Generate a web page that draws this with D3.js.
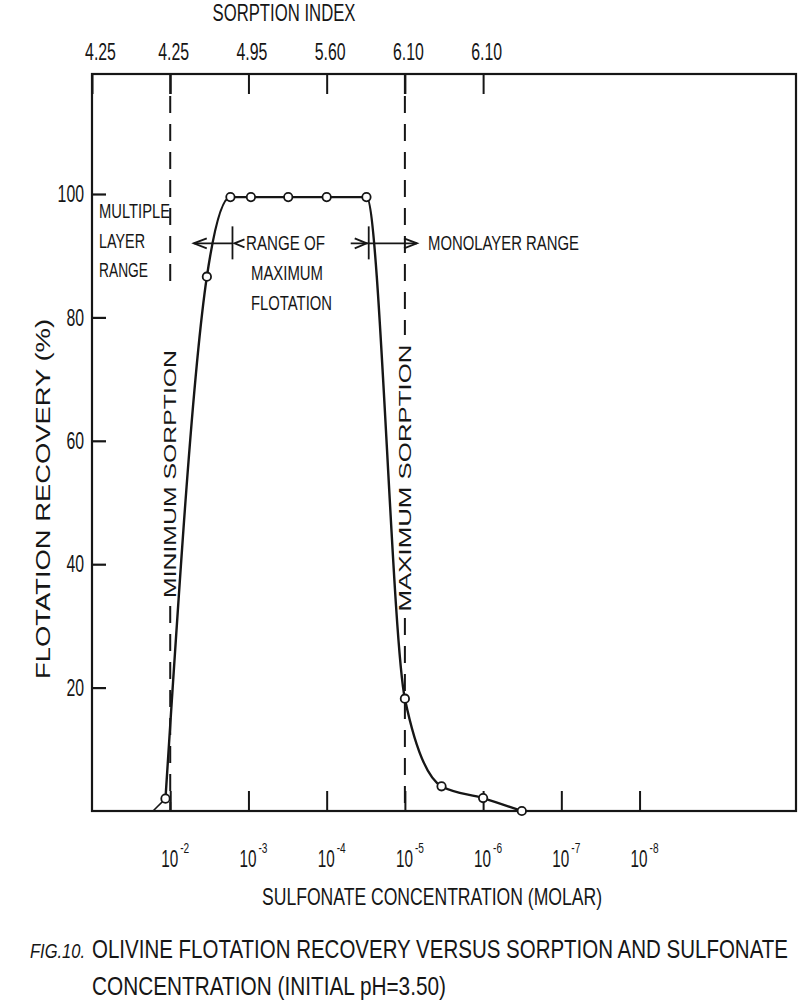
<!DOCTYPE html>
<html><head><meta charset="utf-8">
<script src="https://cdn.jsdelivr.net/npm/d3@7"></script>
<style>
body{margin:0;background:#fff}
svg{display:block}
text{font-family:"Liberation Sans Narrow","Liberation Sans",Arial,sans-serif;fill:#161616}
</style>
</head><body>
<svg id="c" width="800" height="1008"></svg>
<script>
// ---- data ----
const concentration = [0.0166, 0.0115, 0.0034, 0.0017, 0.00093, 0.00031, 0.0001, 0.000031, 0.00001, 0.0000034, 0.000001, 0.00000032];
const recovery      = [0,      2.0,    86.6,   99.5,   99.5,    99.5,    99.5,   99.5,     18.2,    4.0,       2.1,      0];
const hasMarker     = [false,  true,   true,   true,   true,    true,    true,   true,     true,    true,      true,     true];

const bottomTicks = [1e-2, 1e-3, 1e-4, 1e-5, 1e-6, 1e-7, 1e-8];
const bottomExp   = ["-2", "-3", "-4", "-5", "-6", "-7", "-8"];
const topTicks    = [1e-1, 1e-2, 1e-3, 1e-4, 1e-5, 1e-6];
const sorptionIndex = ["4.25", "4.25", "4.95", "5.60", "6.10", "6.10"];
const yTicks = [20, 40, 60, 80, 100];
const sorptionLines = [1e-2, 1e-5];
const sorptionLineLabels = ["MINIMUM  SORPTION", "MAXIMUM  SORPTION"];

// ---- drawing ----
const svg = d3.select("#c");
const INK = "#161616";
const L = 92, R = 796, T = 74, B = 811;
const x = d3.scaleLog().domain([1e-1, 1e-10]).range([L, R]);
const y = d3.scaleLinear().domain([0, 100]).range([B, 194]);

function fit(sel, w){ sel.attr("textLength", w).attr("lengthAdjust", "spacingAndGlyphs"); return sel; }
function numW(s){ let w=0; for(const ch of s){ w += (ch==='.'?4.5:8.8); } return w; }
// tall, condensed lettering: small font stretched vertically, width fixed by textLength
function tallText(px, py, str, size, sy, w){
  return fit(svg.append("text").attr("transform",`translate(${px},${py}) scale(1,${sy})`)
    .attr("font-size",size).text(str), w);
}

// frame
svg.append("rect").attr("x", L).attr("y", T).attr("width", R-L).attr("height", B-T)
  .attr("fill","none").attr("stroke",INK).attr("stroke-width",2.2);

// y axis
const gy = svg.append("g").attr("transform",`translate(${L},0)`)
  .call(d3.axisLeft(y).tickValues(yTicks).tickSize(-14).tickPadding(8));
gy.select(".domain").remove();
gy.selectAll(".tick line").attr("stroke",INK).attr("stroke-width",2.2);
gy.selectAll(".tick text").attr("font-size",24).attr("fill",INK)
  .attr("font-family","Liberation Sans Narrow, Liberation Sans, sans-serif")
  .each(function(d){ fit(d3.select(this), numW(String(d))); });

// top axis (sorption index)
const gt = svg.append("g").attr("transform",`translate(0,${T})`)
  .call(d3.axisTop(x).tickValues(topTicks).tickFormat((d,i)=>sorptionIndex[i]).tickSize(-20).tickPadding(14));
gt.select(".domain").remove();
gt.selectAll(".tick line").attr("stroke",INK).attr("stroke-width",2);
gt.selectAll(".tick text").attr("font-size",24).attr("fill",INK)
  .attr("font-family","Liberation Sans Narrow, Liberation Sans, sans-serif")
  .attr("dx",(d,i)=> i===0 ? 8 : 3)
  .each(function(d,i){ fit(d3.select(this), numW(sorptionIndex[i])); });

fit(svg.append("text").attr("x",284).attr("y",21).attr("text-anchor","middle")
  .attr("font-size",24).text("SORPTION INDEX"), 143);

// bottom axis (sulfonate concentration)
const gb = svg.append("g").attr("transform",`translate(0,${B})`)
  .call(d3.axisBottom(x).tickValues(bottomTicks).tickSize(-20).tickFormat(""));
gb.select(".domain").remove();
gb.selectAll(".tick line").attr("stroke",INK).attr("stroke-width",2);

bottomTicks.forEach((d,i)=>{
  tallText(x(d)-9, 867, "10", 15.5, 1.5, 17);
  tallText(x(d)+10, 853, bottomExp[i], 10.5, 1.4, 9);
});

fit(svg.append("text").attr("x",432).attr("y",905).attr("text-anchor","middle")
  .attr("font-size",24).text("SULFONATE CONCENTRATION (MOLAR)"), 340);

// y title
fit(svg.append("text").attr("transform","translate(50,499) rotate(-90)").attr("text-anchor","middle")
  .attr("font-size",20).attr("font-family","Liberation Sans, sans-serif").text("FLOTATION  RECOVERY (%)"), 360);

// dashed sorption lines with rotated labels
const segs = [[[T, 282],[606, B]], [[T, 335],[618, B]]];
const labelMid = [474, 478], labelLen = [248, 267];
sorptionLines.forEach((c,i)=>{
  const xx = x(c);
  svg.append("line").attr("x1",xx).attr("x2",xx).attr("y1",T).attr("y2",T+20)
    .attr("stroke",INK).attr("stroke-width",2);
  segs[i].forEach(s=>{
    svg.append("line").attr("x1",xx).attr("x2",xx).attr("y1",Math.max(s[0],T+22)).attr("y2",s[1])
      .attr("stroke",INK).attr("stroke-width",2).attr("stroke-dasharray","17,11");
  });
  fit(svg.append("text").attr("transform",`translate(${xx},${labelMid[i]}) rotate(-90)`)
    .attr("text-anchor","middle").attr("dy","0.36em").attr("font-size",17)
    .attr("font-family","Liberation Sans, sans-serif")
    .text(sorptionLineLabels[i]), labelLen[i]);
});

// curve: short lead-in segment (straight), then smooth curve through measured points
const pts = concentration.map((c,i)=>({c, r:recovery[i], m:hasMarker[i]}));
const firstM = pts.findIndex(d=>d.m);
svg.append("path").datum(pts.slice(0, firstM+1))
  .attr("d", d3.line().x(d=>x(d.c)).y(d=>y(d.r)))
  .attr("fill","none").attr("stroke",INK).attr("stroke-width",1.6);
svg.append("path").datum(pts.slice(firstM))
  .attr("d", d3.line().x(d=>x(d.c)).y(d=>y(d.r)).curve(d3.curveMonotoneX))
  .attr("fill","none").attr("stroke",INK).attr("stroke-width",2.4);
svg.append("g").selectAll("circle").data(pts.filter(d=>d.m)).join("circle")
  .attr("cx",d=>x(d.c)).attr("cy",d=>y(d.r)).attr("r",4.2)
  .attr("fill","#fff").attr("stroke",INK).attr("stroke-width",1.8);

// range annotations
const ay = y(92);
const barL = x(1.6e-3), barR = x(2.9e-5);
const tipL = x(5.0e-3), tipR = x(7.0e-6);
const ann = svg.append("g").attr("stroke",INK).attr("stroke-width",1.8).attr("fill","none");
ann.append("line").attr("x1",tipL).attr("x2",barL).attr("y1",ay).attr("y2",ay);
ann.append("path").attr("d",`M${tipL+13},${ay-5}L${tipL},${ay}L${tipL+13},${ay+5}`);
ann.append("line").attr("x1",barL).attr("x2",barL).attr("y1",ay-17).attr("y2",ay+16);
ann.append("path").attr("d",`M${barL+12},${ay-4}L${barL+2},${ay}L${barL+12},${ay+4}`);
ann.append("line").attr("x1",barR-18).attr("x2",tipR).attr("y1",ay).attr("y2",ay);
ann.append("path").attr("d",`M${barR-14},${ay-5}L${barR-2},${ay}L${barR-14},${ay+5}`);
ann.append("line").attr("x1",barR).attr("x2",barR).attr("y1",ay-17).attr("y2",ay+16);
ann.append("path").attr("d",`M${tipR-13},${ay-5}L${tipR},${ay}L${tipR-13},${ay+5}`);

const annText = [
  ["MULTIPLE", 99, 218, 71], ["LAYER", 99, 248, 46], ["RANGE", 99, 277, 49],
  ["RANGE OF", 246, 250, 79], ["MAXIMUM", 251, 280, 72], ["FLOTATION", 251, 310, 81],
  ["MONOLAYER RANGE", 428, 250, 151]
];
annText.forEach(a=>{
  fit(svg.append("text").attr("x",a[1]).attr("y",a[2]).attr("font-size",20).text(a[0]), a[3]);
});

// caption
tallText(30, 958, "FIG.10.", 13, 1.6, 55)
  .attr("font-style","italic").attr("font-family","DejaVu Serif, serif").attr("fill","#333");
tallText(92, 958, "OLIVINE FLOTATION RECOVERY VERSUS SORPTION AND SULFONATE", 16, 1.6, 696);
tallText(92, 995, "CONCENTRATION (INITIAL pH=3.50)", 16, 1.6, 354);
</script>
</body></html>
